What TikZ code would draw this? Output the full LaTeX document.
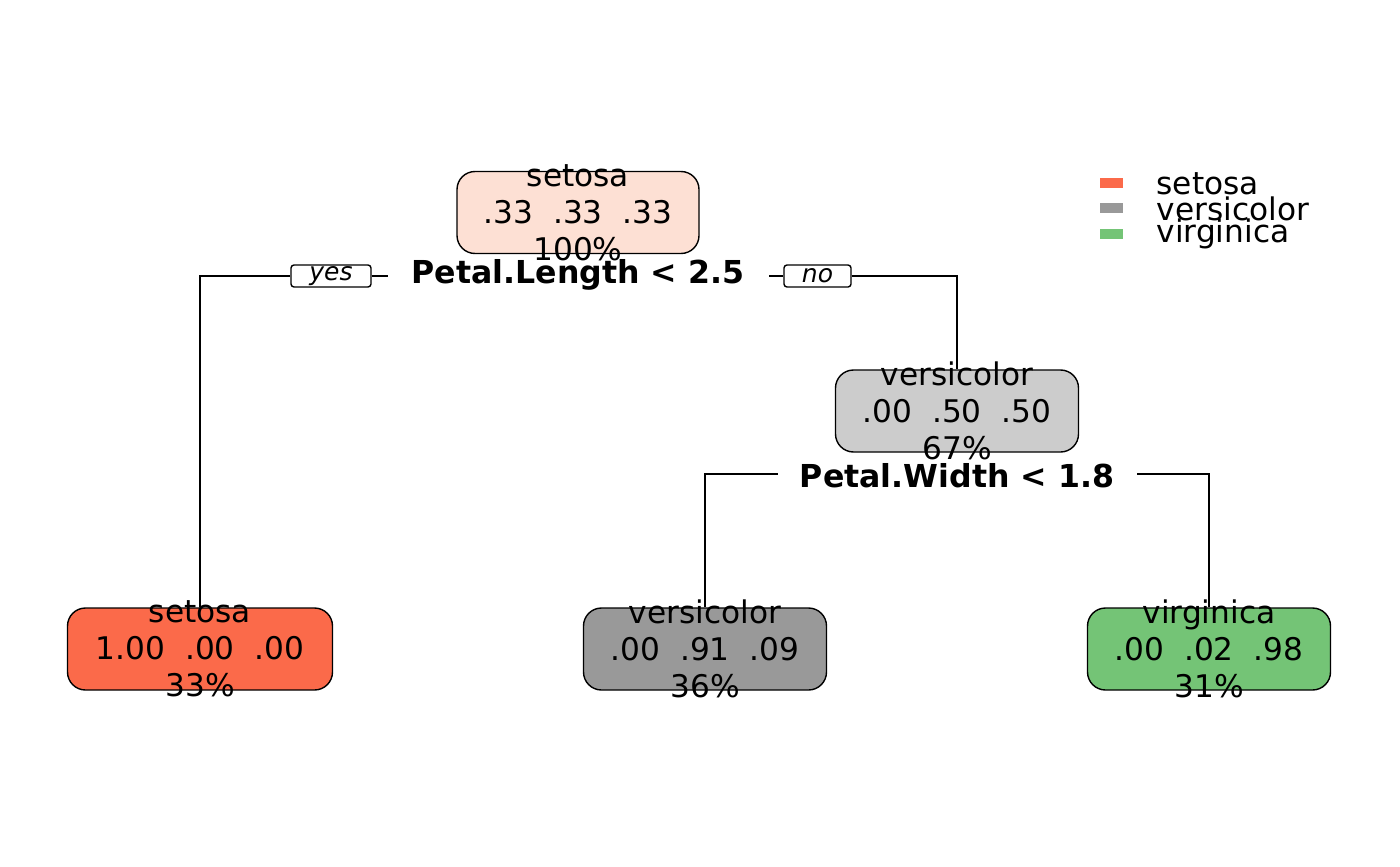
\documentclass[tikz,border=0pt]{standalone}
\usepackage{fontspec}
\setmainfont{DejaVu Sans}
\definecolor{cset}{HTML}{FB6A4A}
\definecolor{croot}{HTML}{FDE0D4}
\definecolor{cverl}{HTML}{999999}
\definecolor{cveri}{HTML}{CCCCCC}
\definecolor{cvir}{HTML}{74C476}
\newcommand{\gapp}{\hspace{0.636em}}
\begin{document}
\begin{tikzpicture}[x=0.5pt,y=-0.5pt,line width=0.7pt,
  box/.style={draw=black,rounded corners=9pt,minimum height=41pt,inner sep=0pt},
  txt/.style={align=center,inner sep=0pt,font=\fontsize{15.6}{18.5}\selectfont},
  split/.style={inner sep=0pt,font=\fontsize{15.8}{18.5}\selectfont\bfseries},
  lab/.style={draw=black,rounded corners=1.5pt,minimum height=11pt,inner sep=0pt,font=\fontsize{12.5}{14}\selectfont\itshape},
  leg/.style={inner sep=0pt,minimum width=11.5pt,minimum height=5pt},
  legt/.style={anchor=west,inner sep=0pt,font=\fontsize{15.6}{18.5}\selectfont}]
\useasboundingbox (0,0) rectangle (1400,866);
\coordinate (rootL) at (200,276);
\coordinate (rootR) at (957,276);
\coordinate (sL) at (388,276);
\coordinate (sR) at (769,276);
\coordinate (v2L) at (705,474);
\coordinate (v2R) at (1209,474);
\coordinate (s2L) at (778,474);
\coordinate (s2R) at (1137,474);
\node[lab,minimum width=40pt] (yes) at (331,276) {yes};
\node[lab,minimum width=33.5pt] (no) at (817.5,276) {no};
% boxes
\node[box,fill=croot,minimum width=121pt] (root) at (578,212.5) {};
\node[box,fill=cveri,minimum width=121.5pt] (vers) at (957,411) {};
\node[box,fill=cset,minimum width=132.5pt] (leafA) at (200,649) {};
\node[box,fill=cverl,minimum width=121.5pt] (leafB) at (705,649) {};
\node[box,fill=cvir,minimum width=121.5pt] (leafC) at (1209,649) {};
% connectors
\draw (leafA.north) |- (yes.west);
\draw (yes.east) -- (sL);
\draw (sR) -- (no.west);
\draw (no.east) -| (vers.north);
\draw (leafB.north) |- (s2L);
\draw (s2R) -| (leafC.north);
% texts
\node[txt] (rootT) at (root) {setosa\\.33\gapp.33\gapp.33\\100\%};
\node[txt] (versT) at (vers) {versicolor\\.00\gapp.50\gapp.50\\67\%};
\node[txt] (leafAT) at (leafA) {setosa\\1.00\gapp.00\gapp.00\\33\%};
\node[txt] (leafBT) at (leafB) {versicolor\\.00\gapp.91\gapp.09\\36\%};
\node[txt] (leafCT) at (leafC) {virginica\\.00\gapp.02\gapp.98\\31\%};
\node[split] (split1) at (578,275) {Petal.Length < 2.5};
\node[split] (split2) at (957,476) {Petal.Width < 1.8};
% legend
\node[leg,fill=cset] (l1) at (1111.5,183) {};
\node[leg,fill=cverl] (l2) at (1111.5,208) {};
\node[leg,fill=cvir] (l3) at (1111.5,233.5) {};
\node[legt] (t1) at (1156,184) {setosa};
\node[legt] (t2) at (1156,209) {versicolor};
\node[legt] (t3) at (1156,234) {virginica};
\end{tikzpicture}
\end{document}
